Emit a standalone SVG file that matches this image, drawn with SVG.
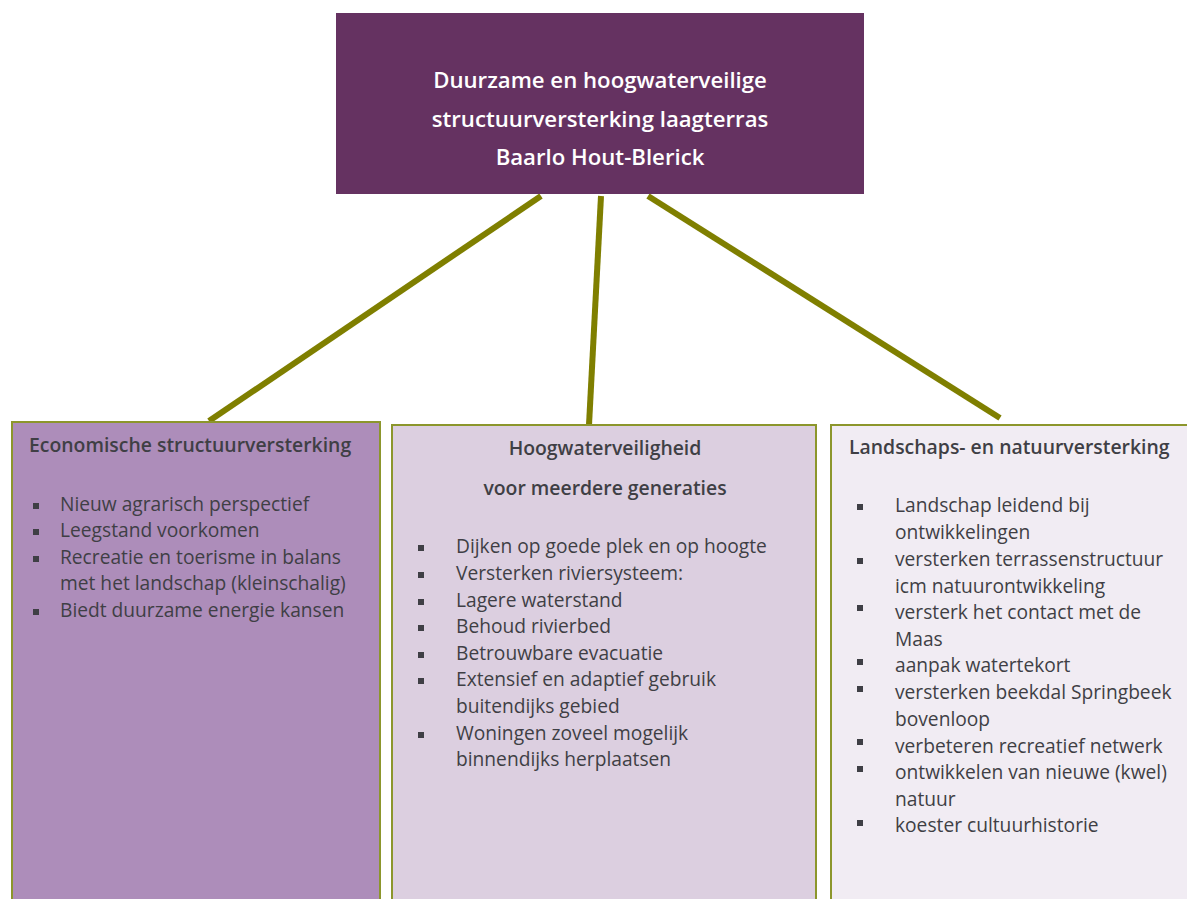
<svg xmlns="http://www.w3.org/2000/svg" width="1187" height="899" viewBox="0 0 1187 899">
<style>
.t{font-family:"Open Sans","Noto Sans",sans-serif;fill:#3f3f45;font-size:19.2px}
.h{font-family:"Open Sans","Noto Sans",sans-serif;fill:#3f3f45;font-size:19.4px;font-weight:600}
.top{font-family:"Open Sans","Noto Sans",sans-serif;fill:#ffffff;font-size:22.2px;font-weight:600}
.conn{stroke:#7f7f00;stroke-width:6;fill:none}
.bul{fill:#3f3f45}
</style>
<defs>
<rect id="b" width="6" height="6"/>
</defs>
<rect width="1187" height="899" fill="#ffffff"/>
<g id="connectors">
<line class="conn" x1="541" y1="196" x2="209" y2="421"/>
<line class="conn" x1="601" y1="196" x2="589" y2="425"/>
<line class="conn" x1="648" y1="196" x2="1000" y2="418"/>
</g>
<g id="top">
<rect x="336" y="13" width="528" height="181" fill="#653261"/>
<text class="top" x="600" y="88" text-anchor="middle">Duurzame en hoogwaterveilige</text>
<text class="top" x="600" y="127" text-anchor="middle">structuurversterking laagterras</text>
<text class="top" x="600" y="165" text-anchor="middle">Baarlo Hout-Blerick</text>
</g>
<g id="economisch">
<rect x="12" y="422" width="368" height="490" fill="#ad8dba" stroke="#8c962c" stroke-width="2"/>
<text class="h" x="29" y="452">Economische structuurversterking</text>
<g class="bul">
<use href="#b" x="33" y="503"/><use href="#b" x="33" y="529"/><use href="#b" x="33" y="556"/><use href="#b" x="33" y="609"/>
</g>
<text class="t" x="60" y="511">Nieuw agrarisch perspectief</text>
<text class="t" x="60" y="537">Leegstand voorkomen</text>
<text class="t" x="60" y="564">Recreatie en toerisme in balans</text>
<text class="t" x="60" y="590">met het landschap (kleinschalig)</text>
<text class="t" x="60" y="617">Biedt duurzame energie kansen</text>
</g>
<g id="hoogwater">
<rect x="392" y="425" width="424" height="490" fill="#dccfe0" stroke="#8c962c" stroke-width="2"/>
<text class="h" x="605" y="455" text-anchor="middle">Hoogwaterveiligheid</text>
<text class="h" x="605" y="495" text-anchor="middle">voor meerdere generaties</text>
<g class="bul">
<use href="#b" x="418" y="545"/><use href="#b" x="418" y="572"/><use href="#b" x="418" y="599"/><use href="#b" x="418" y="625"/><use href="#b" x="418" y="652"/><use href="#b" x="418" y="678"/><use href="#b" x="418" y="732"/>
</g>
<text class="t" x="456" y="553">Dijken op goede plek en op hoogte</text>
<text class="t" x="456" y="580">Versterken riviersysteem:</text>
<text class="t" x="456" y="607">Lagere waterstand</text>
<text class="t" x="456" y="633">Behoud rivierbed</text>
<text class="t" x="456" y="660">Betrouwbare evacuatie</text>
<text class="t" x="456" y="686">Extensief en adaptief gebruik</text>
<text class="t" x="456" y="713">buitendijks gebied</text>
<text class="t" x="456" y="740">Woningen zoveel mogelijk</text>
<text class="t" x="456" y="766">binnendijks herplaatsen</text>
</g>
<g id="landschap">
<rect x="831" y="425" width="370" height="490" fill="#f1ecf3" stroke="#8c962c" stroke-width="2"/>
<text class="h" x="849" y="454">Landschaps- en natuurversterking</text>
<g class="bul">
<use href="#b" x="857" y="504"/><use href="#b" x="857" y="558"/><use href="#b" x="857" y="605"/><use href="#b" x="857" y="659"/><use href="#b" x="857" y="686"/><use href="#b" x="857" y="739"/><use href="#b" x="857" y="766"/><use href="#b" x="857" y="820"/>
</g>
<text class="t" x="895" y="512">Landschap leidend bij</text>
<text class="t" x="895" y="539">ontwikkelingen</text>
<text class="t" x="895" y="566">versterken terrassenstructuur</text>
<text class="t" x="895" y="593">icm natuurontwikkeling</text>
<text class="t" x="895" y="619">versterk het contact met de</text>
<text class="t" x="895" y="646">Maas</text>
<text class="t" x="895" y="672">aanpak watertekort</text>
<text class="t" x="895" y="699">versterken beekdal Springbeek</text>
<text class="t" x="895" y="726">bovenloop</text>
<text class="t" x="895" y="753">verbeteren recreatief netwerk</text>
<text class="t" x="895" y="779">ontwikkelen van nieuwe (kwel)</text>
<text class="t" x="895" y="806">natuur</text>
<text class="t" x="895" y="832">koester cultuurhistorie</text>
</g>
</svg>
